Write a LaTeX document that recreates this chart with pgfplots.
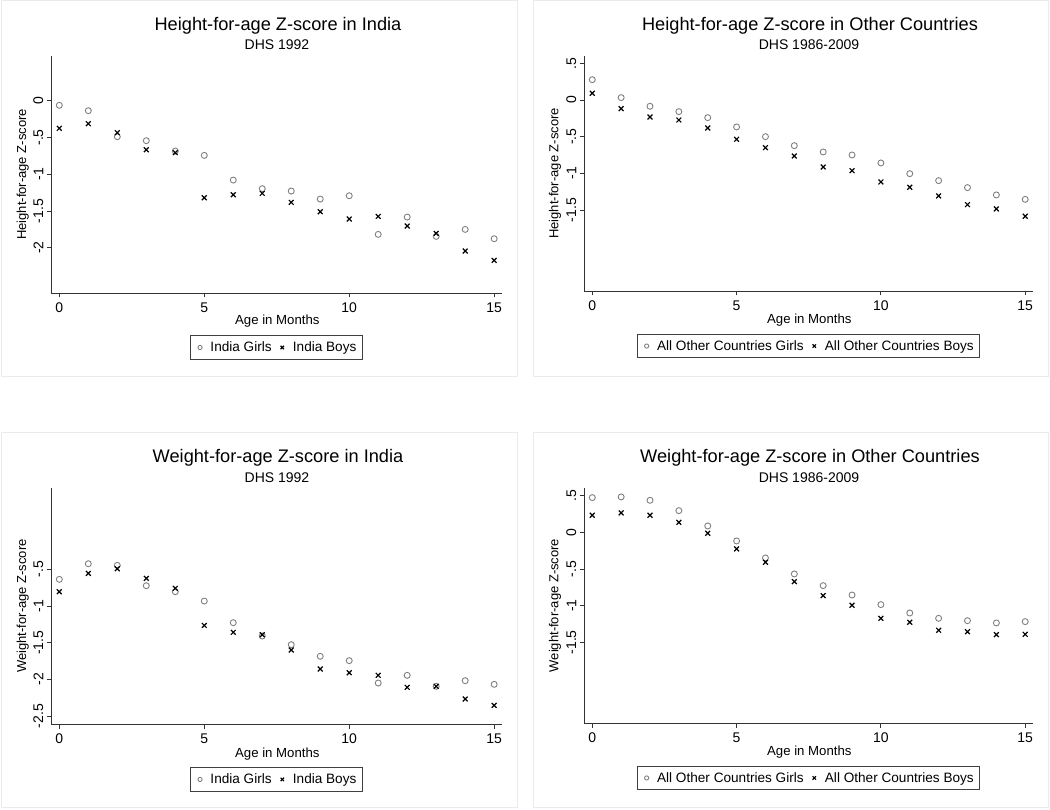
\documentclass[border=0pt]{standalone}
\usepackage{fontspec}
\setmainfont{Liberation Sans}
\usepackage{pgfplots}
\pgfplotsset{compat=1.18}

\pgfplotsset{
  stata/.style={
    scale only axis, clip=false,
    axis x line*=bottom, axis y line*=left,
    axis line style={-, black!80, line width=0.9pt},
    tick style={black!80, line width=0.9pt},
    tick align=outside, major tick length=4.5pt,
    xmin=-0.287, xmax=15.27,
    xtick={0,5,10,15}, xticklabels={0,5,10,15},
    ticklabel style={font=\fontsize{14}{15}\selectfont, inner sep=0pt},
    xticklabel style={anchor=north},
    yticklabel style={rotate=90, anchor=south},
    xticklabel shift=5pt, yticklabel shift=3pt,
    legend columns=2,
    legend cell align=left,
    legend style={draw=black!75, line width=0.7pt,
      font=\fontsize{13.6}{15}\selectfont,
      at={(0.5,-0.232)}, anchor=center,
      inner xsep=4pt, inner ysep=4pt,
      nodes={inner xsep=2pt},
      /tikz/every even column/.append style={column sep=3pt}},
    legend image code/.code={\path (0pt,0pt) (13pt,0pt);
      \draw[#1, every mark/.append style={scale=0.7}] plot coordinates {(5pt,0pt)};},
  },
  girls/.style={only marks, mark=o, mark size=3pt, color=black!50, line width=0.9pt},
  boys/.style={only marks, mark=x, mark size=3.4pt, color=black, line width=1.2pt},
}

\begin{document}
\begin{tikzpicture}
\useasboundingbox (0pt,0pt) rectangle (1050pt,810pt);
% panel frames
\draw[black!8, line width=1pt] (1pt,809pt) rectangle (517.7pt,433.3pt);
\draw[black!8, line width=1pt] (533.3pt,809pt) rectangle (1048.7pt,433.3pt);
\draw[black!8, line width=1pt] (1pt,377pt) rectangle (517.7pt,2.3pt);
\draw[black!8, line width=1pt] (533.3pt,377pt) rectangle (1048.7pt,2.3pt);

% Height, India
\begin{axis}[stata, at={(51pt,517pt)}, anchor=south west,
  width=451pt, height=237pt, ymin=-2.616, ymax=0.608,
  ytick={0,-0.5,-1,-1.5,-2}, yticklabels={0,-.5,-1,-1.5,-2},
  legend style={at={(0.5,-0.23)}}]
\addplot[girls] coordinates {(0,-0.063)(1,-0.136)(2,-0.49)(3,-0.544)(4,-0.685)(5,-0.744)(6,-1.08)(7,-1.197)(8,-1.229)(9,-1.338)(10,-1.293)(11,-1.819)(12,-1.583)(13,-1.846)(14,-1.751)(15,-1.878)};
\addplot[boys] coordinates {(0,-0.376)(1,-0.313)(2,-0.435)(3,-0.667)(4,-0.707)(5,-1.320)(6,-1.279)(7,-1.261)(8,-1.383)(9,-1.510)(10,-1.610)(11,-1.574)(12,-1.705)(13,-1.805)(14,-2.045)(15,-2.172)};
\legend{India Girls, India Boys}
\end{axis}

% Height, other countries
\begin{axis}[stata, at={(584pt,519pt)}, anchor=south west,
  width=449pt, height=235.3pt, ymin=-2.605, ymax=0.604,
  ytick={0.5,0,-0.5,-1,-1.5}, yticklabels={.5,0,-.5,-1,-1.5},
  legend style={at={(0.5,-0.234)}}]
\addplot[girls] coordinates {(0,0.277)(1,0.032)(2,-0.086)(3,-0.159)(4,-0.241)(5,-0.368)(6,-0.5)(7,-0.623)(8,-0.709)(9,-0.75)(10,-0.859)(11,-1.005)(12,-1.1)(13,-1.195)(14,-1.295)(15,-1.355)};
\addplot[boys] coordinates {(0,0.091)(1,-0.118)(2,-0.232)(3,-0.273)(4,-0.382)(5,-0.536)(6,-0.65)(7,-0.764)(8,-0.914)(9,-0.964)(10,-1.118)(11,-1.191)(12,-1.309)(13,-1.427)(14,-1.486)(15,-1.586)};
\legend{All Other Countries Girls, All Other Countries Boys}
\end{axis}

% Weight, India
\begin{axis}[stata, at={(51pt,85.7pt)}, anchor=south west,
  width=451pt, height=236.6pt, ymin=-2.613, ymax=0.614,
  ytick={-0.5,-1,-1.5,-2,-2.5}, yticklabels={-.5,-1,-1.5,-2,-2.5},
  legend style={at={(0.5,-0.233)}}]
\addplot[girls] coordinates {(0,-0.636)(1,-0.423)(2,-0.445)(3,-0.723)(4,-0.805)(5,-0.932)(6,-1.227)(7,-1.409)(8,-1.527)(9,-1.686)(10,-1.745)(11,-2.05)(12,-1.945)(13,-2.095)(14,-2.018)(15,-2.068)};
\addplot[boys] coordinates {(0,-0.805)(1,-0.555)(2,-0.491)(3,-0.623)(4,-0.759)(5,-1.264)(6,-1.359)(7,-1.391)(8,-1.6)(9,-1.859)(10,-1.909)(11,-1.945)(12,-2.109)(13,-2.095)(14,-2.268)(15,-2.355)};
\legend{India Girls, India Boys}
\end{axis}

% Weight, other countries
\begin{axis}[stata, at={(584pt,86.7pt)}, anchor=south west,
  width=449pt, height=235.6pt, ymin=-2.604, ymax=0.608,
  ytick={0.5,0,-0.5,-1,-1.5}, yticklabels={.5,0,-.5,-1,-1.5},
  legend style={at={(0.5,-0.232)}}]
\addplot[girls] coordinates {(0,0.473)(1,0.482)(2,0.436)(3,0.295)(4,0.086)(5,-0.118)(6,-0.35)(7,-0.568)(8,-0.727)(9,-0.855)(10,-0.986)(11,-1.1)(12,-1.173)(13,-1.205)(14,-1.236)(15,-1.218)};
\addplot[boys] coordinates {(0,0.232)(1,0.264)(2,0.232)(3,0.136)(4,-0.014)(5,-0.227)(6,-0.409)(7,-0.673)(8,-0.864)(9,-0.995)(10,-1.173)(11,-1.227)(12,-1.336)(13,-1.355)(14,-1.395)(15,-1.391)};
\legend{All Other Countries Girls, All Other Countries Boys}
\end{axis}

% titles and axis titles
\begin{scope}[every node/.style={inner sep=0pt}]
\node[anchor=base, font=\fontsize{18.2}{20}\selectfont] at (278pt,779.3pt) {Height-for-age Z-score in India};
\node[anchor=base, font=\fontsize{14}{16}\selectfont] at (277pt,760pt) {DHS 1992};
\node[anchor=base, font=\fontsize{18.2}{20}\selectfont] at (810pt,779.3pt) {Height-for-age Z-score in Other Countries};
\node[anchor=base, font=\fontsize{14}{16}\selectfont] at (809pt,760pt) {DHS 1986-2009};
\node[anchor=base, font=\fontsize{18.2}{20}\selectfont] at (278pt,347.7pt) {Weight-for-age Z-score in India};
\node[anchor=base, font=\fontsize{14}{16}\selectfont] at (277pt,327.7pt) {DHS 1992};
\node[anchor=base, font=\fontsize{18.2}{20}\selectfont] at (810pt,347.7pt) {Weight-for-age Z-score in Other Countries};
\node[anchor=base, font=\fontsize{14}{16}\selectfont] at (809pt,327.7pt) {DHS 1986-2009};

\node[anchor=base, font=\fontsize{13.2}{15}\selectfont] at (277.3pt,485pt) {Age in Months};
\node[anchor=base, font=\fontsize{13.2}{15}\selectfont] at (809.3pt,486pt) {Age in Months};
\node[anchor=base, font=\fontsize{13.2}{15}\selectfont] at (277.3pt,52.7pt) {Age in Months};
\node[anchor=base, font=\fontsize{13.2}{15}\selectfont] at (809.3pt,54.3pt) {Age in Months};

\node[anchor=base, rotate=90, font=\fontsize{13}{15}\selectfont] at (26pt,635.5pt) {Height-for-age Z-score};
\node[anchor=base, rotate=90, font=\fontsize{13}{15}\selectfont] at (558.3pt,636.6pt) {Height-for-age Z-score};
\node[anchor=base, rotate=90, font=\fontsize{13}{15}\selectfont] at (26pt,204pt) {Weight-for-age Z-score};
\node[anchor=base, rotate=90, font=\fontsize{13}{15}\selectfont] at (558.3pt,204.5pt) {Weight-for-age Z-score};
\end{scope}
\end{tikzpicture}
\end{document}
